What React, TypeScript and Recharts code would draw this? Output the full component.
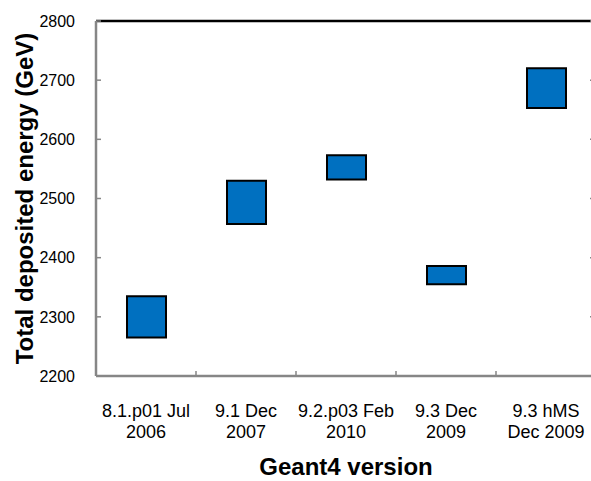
import React from "react";
import { BarChart, Bar, XAxis, YAxis, ReferenceLine } from "recharts";

const categories = [
  "8.1.p01 Jul\n2006",
  "9.1 Dec\n2007",
  "9.2.p03 Feb\n2010",
  "9.3 Dec\n2009",
  "9.3 hMS\nDec 2009",
];
const lowValues = [2265, 2457, 2532, 2355, 2653];
const highValues = [2335, 2530, 2573, 2386, 2720];
const yTicks = [2200, 2300, 2400, 2500, 2600, 2700, 2800];
const xTitle = "Geant4 version";
const yTitle = "Total deposited energy (GeV)";

const data = categories.map((name, i) => ({ name, range: [lowValues[i], highValues[i]] }));

const FONT = "'Liberation Sans', Arial, Helvetica, sans-serif";
const AXIS_GRAY = "#868686";
const PLOT_WIDTH = 500;

const YTick = (props: any) => {
  const { x, y, payload } = props;
  return (
    <g>
      <line x1={x} x2={x + 5} y1={y} y2={y} stroke={AXIS_GRAY} strokeWidth={1.5} />
      <line x1={x + PLOT_WIDTH - 6} x2={x + PLOT_WIDTH} y1={y} y2={y} stroke={AXIS_GRAY} strokeWidth={1.5} />
      <text x={x - 21} y={y} dy="0.36em" textAnchor="end" fontSize={16} fontFamily={FONT} fill="#000">
        {payload.value}
      </text>
    </g>
  );
};

const XTick = (props: any) => {
  const { x, y, payload, index } = props;
  const lines = String(payload.value).split("\n");
  const half = payload.offset ?? 50;
  return (
    <g>
      {index < categories.length - 1 && (
        <line x1={x + half} x2={x + half} y1={y} y2={y - 5} stroke={AXIS_GRAY} strokeWidth={1.5} />
      )}
      {lines.map((l, i) => (
        <text key={i} x={x} y={y + 41 + i * 20.5} textAnchor="middle" fontSize={18} fontFamily={FONT} fill="#000">
          {l}
        </text>
      ))}
    </g>
  );
};

const XTitle = (props: any) => {
  const vb = props.viewBox || { x: 96, y: 376, width: 500, height: 105 };
  return (
    <text x={vb.x + vb.width / 2} y={vb.y + 99} textAnchor="middle" fontSize={24} fontWeight="bold" fontFamily={FONT} fill="#000">
      {xTitle}
    </text>
  );
};

const YTitle = (props: any) => {
  const vb = props.viewBox || { x: 0, y: 21, width: 96, height: 355 };
  const cx = vb.x + 33;
  const cy = vb.y + vb.height / 2;
  return (
    <text x={cx} y={cy} transform={`rotate(-90, ${cx}, ${cy})`} textAnchor="middle" fontSize={24} fontWeight="bold" fontFamily={FONT} fill="#000">
      {yTitle}
    </text>
  );
};

export default function App() {
  return (
    <div style={{ position: "fixed", left: 0, top: 0, width: 591, height: 481, overflow: "hidden", background: "#fff" }}>
      <BarChart width={600} height={481} data={data} margin={{ top: 21, right: 4, bottom: 0, left: 0 }}>
        <XAxis
          dataKey="name"
          height={105}
          interval={0}
          tickSize={0}
          tickMargin={0}
          tickLine={false}
          axisLine={{ stroke: AXIS_GRAY, strokeWidth: 2.5 }}
          tick={<XTick />}
          label={<XTitle />}
        />
        <YAxis
          width={96}
          domain={[2200, 2800]}
          ticks={yTicks}
          interval={0}
          tickSize={0}
          tickMargin={0}
          tickLine={false}
          axisLine={{ stroke: AXIS_GRAY, strokeWidth: 2.5 }}
          tick={<YTick />}
          label={<YTitle />}
        />
        <Bar dataKey="range" barSize={39} fill="#0070C0" stroke="#000" strokeWidth={2} isAnimationActive={false} />
        <ReferenceLine y={2800} stroke="#000" strokeWidth={2.5} />
      </BarChart>
    </div>
  );
}
